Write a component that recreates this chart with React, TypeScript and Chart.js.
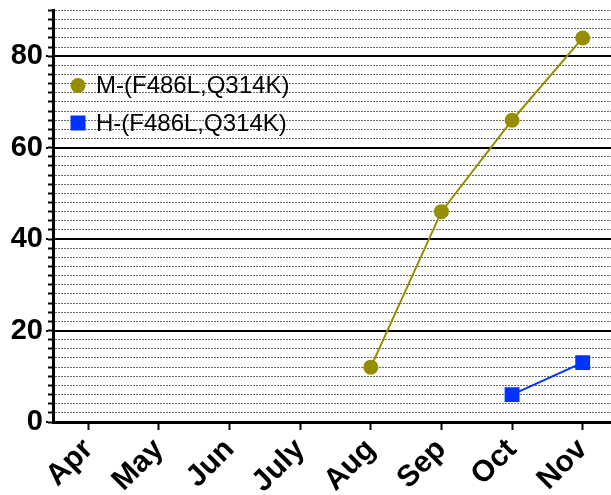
import React, { useEffect, useRef } from 'react';
import { Chart, registerables } from 'chart.js';

Chart.register(...registerables);

const categories = ['Apr', 'May', 'Jun', 'July', 'Aug', 'Sep', 'Oct', 'Nov'];
const seriesM: (number | null)[] = [null, null, null, null, 12, 46, 66, 84];
const seriesH: (number | null)[] = [null, null, null, null, null, null, 6, 13];
const seriesLabels = ['M-(F486L,Q314K)', 'H-(F486L,Q314K)'];
const yMin = 0;
const yMax = 90;
const yMajorStep = 20;
const yMinorStep = 2;

const FONT = '"Liberation Sans", Arial, Helvetica, sans-serif';
const OLIVE = '#968E00';
const BLUE = '#0033FF';

const legendPlugin = {
  id: 'insideLegend',
  afterDatasetsDraw(chart: any) {
    const ctx = chart.ctx;
    const { left, top } = chart.chartArea;
    chart.data.datasets.forEach((ds: any, i: number) => {
      const cy = top + 75 + i * 37.5;
      const cx = left + 25;
      ctx.save();
      ctx.fillStyle = ds.pointBackgroundColor;
      if (ds.pointStyle === 'rect') {
        ctx.fillRect(cx - 7.5, cy - 7.5, 15, 15);
      } else {
        ctx.beginPath();
        ctx.arc(cx, cy, 7.5, 0, Math.PI * 2);
        ctx.fill();
      }
      ctx.fillStyle = '#000';
      ctx.font = `24px ${FONT}`;
      ctx.textBaseline = 'middle';
      ctx.textAlign = 'left';
      ctx.fillText(ds.label, left + 43, cy + 1);
      ctx.restore();
    });
  },
};

export default function App() {
  const ref = useRef<HTMLCanvasElement>(null);
  useEffect(() => {
    if (!ref.current) return;
    const chart = new Chart(ref.current, {
      type: 'line',
      data: {
        labels: categories,
        datasets: [
          {
            label: seriesLabels[0],
            data: seriesM,
            yAxisID: 'y',
            borderColor: OLIVE,
            backgroundColor: OLIVE,
            pointBackgroundColor: OLIVE,
            pointBorderColor: OLIVE,
            pointBorderWidth: 0,
            pointStyle: 'circle',
            pointRadius: 7.5,
            borderWidth: 2,
          },
          {
            label: seriesLabels[1],
            data: seriesH,
            yAxisID: 'y',
            borderColor: BLUE,
            backgroundColor: BLUE,
            pointBackgroundColor: BLUE,
            pointBorderColor: BLUE,
            pointBorderWidth: 0,
            pointStyle: 'rect',
            pointRadius: 10.5,
            borderWidth: 2,
          },
        ] as any,
      },
      options: {
        animation: false,
        responsive: false,
        devicePixelRatio: 1,
        layout: { padding: { top: 9, right: 22, left: 0, bottom: 0 } },
        plugins: {
          legend: { display: false },
          tooltip: { enabled: false },
        },
        scales: {
          x: {
            type: 'category',
            offset: true,
            grid: {
              offset: false,
              drawOnChartArea: false,
              drawTicks: true,
              tickLength: 8,
              tickWidth: 2,
              tickColor: '#000',
            },
            border: { display: true, color: '#000', width: 3 },
            ticks: {
              color: '#000',
              font: { family: FONT, size: 30, weight: 'bold' },
              minRotation: 45,
              maxRotation: 45,
              autoSkip: false,
              padding: 2,
            },
            afterFit(s: any) {
              s.height = 73;
              s.paddingLeft = 0;
              s.paddingRight = 0;
            },
          } as any,
          yMinor: {
            type: 'linear',
            position: 'left',
            weight: 0,
            min: yMin,
            max: yMax,
            ticks: { stepSize: yMinorStep, display: false, autoSkip: false, maxTicksLimit: 100 },
            grid: {
              color: (c: any) =>
                c.tick && c.tick.value % yMajorStep === 0 ? 'rgba(0,0,0,0)' : '#6a6a6a',
              lineWidth: 1,
              drawTicks: true,
              tickLength: 5,
              tickWidth: 2,
              tickColor: '#000',
            },
            border: { display: true, color: '#000', width: 3, dash: [2, 1] },
            afterFit(s: any) {
              s.width = 5;
              s.paddingTop = 0;
              s.paddingBottom = 0;
            },
          } as any,
          y: {
            type: 'linear',
            position: 'left',
            weight: 1,
            min: yMin,
            max: yMax,
            ticks: {
              stepSize: yMajorStep,
              autoSkip: false,
              color: '#000',
              font: { family: FONT, size: 29, weight: 'bold' },
              padding: 3,
              callback: (v: any) => (Number(v) % yMajorStep === 0 ? String(v) : ''),
            },
            grid: {
              color: (c: any) =>
                c.tick && (c.tick.value === 0 || c.tick.value % yMajorStep !== 0)
                  ? 'rgba(0,0,0,0)'
                  : '#000',
              lineWidth: 2,
              drawTicks: true,
              tickLength: 2,
              tickWidth: 2,
              tickColor: (c: any) =>
                c.tick && c.tick.value % yMajorStep !== 0 ? 'rgba(0,0,0,0)' : '#000',
            },
            border: { display: false },
            afterFit(s: any) {
              s.width = 48;
              s.paddingTop = 0;
              s.paddingBottom = 0;
            },
          } as any,
        },
      },
      plugins: [legendPlugin],
    });
    return () => chart.destroy();
  }, []);

  return (
    <div
      style={{
        position: 'fixed',
        left: 0,
        top: 0,
        width: 611,
        height: 495,
        overflow: 'hidden',
        background: '#fff',
      }}
    >
      <canvas ref={ref} width={640} height={495} style={{ display: 'block' }} />
    </div>
  );
}
